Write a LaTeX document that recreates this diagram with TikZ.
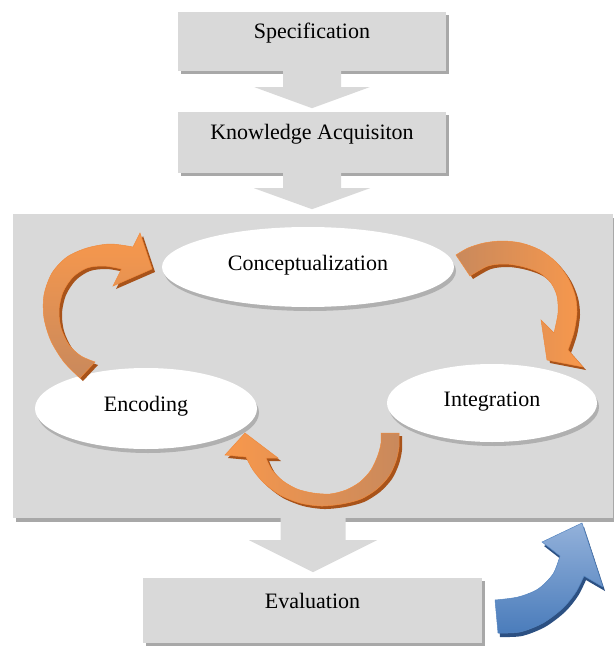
\documentclass[tikz,border=0pt]{standalone}
\usepackage{fontspec}
\setmainfont{Liberation Serif}
\usetikzlibrary{calc,shapes.geometric,shadows}

\definecolor{panelgray}{HTML}{D9D9D9}
\definecolor{shadegray}{HTML}{A8A8A8}
\definecolor{ellshadow}{HTML}{B0B0B0}
\definecolor{ormid}{HTML}{F08A3C}
\definecolor{orbright}{HTML}{F8984C}
\definecolor{orbrown}{HTML}{C9895C}
\definecolor{ordark}{HTML}{A8531A}
\definecolor{bllight}{HTML}{93B1DA}
\definecolor{blmid}{HTML}{4A7CBB}
\definecolor{bledge}{HTML}{5585C0}
\definecolor{bldark}{HTML}{2C5082}

\tikzset{
  labelfont/.style={font=\fontsize{22}{26}\selectfont},
  graybox/.style={rectangle, fill=panelgray, labelfont, inner sep=0pt,
    minimum width=268pt, minimum height=59pt, text height=14pt, text depth=19pt,
    drop shadow={opacity=1, fill=shadegray, shadow xshift=3pt, shadow yshift=-3pt}},
  panelbox/.style={rectangle, fill=panelgray, inner sep=0pt,
    minimum width=600pt, minimum height=304pt,
    drop shadow={opacity=1, fill=shadegray, shadow xshift=3pt, shadow yshift=-4pt}},
  stage/.style={ellipse, fill=white, labelfont, inner sep=0pt,
    text height=12pt, text depth=6pt,
    drop shadow={opacity=1, fill=ellshadow, shadow xshift=2pt, shadow yshift=-4pt}},
  orangeside/.style={fill=ordark},
  blueside/.style={fill=bldark},
}

% straight gray block arrow pointing down from a node anchor
% #1 anchor, #2 shaft half width, #3 shaft length, #4 head half width, #5 head length
\newcommand{\blockdown}[5]{%
  \fill[panelgray] ($(#1)+(-#2,0)$) -- ($(#1)+(-#2,#3)$) -- ($(#1)+(-#4,#3)$)
    -- ($(#1)+(0,{#3+#5})$) -- ($(#1)+(#4,#3)$) -- ($(#1)+(#2,#3)$)
    -- ($(#1)+(#2,0)$) -- cycle;}

% outlines of the curved block arrows of the cycle
\newcommand{\cycleA}{plot[smooth] coordinates {(80,378) (64,362) (51,341) (44,318) (44,295) (52,273) (67,257) (87,248) (110,244) (133,247)}
  -- (140,233) -- (152,269) -- (113,286)
  -- plot[smooth] coordinates {(121.5,269) (104,266) (87,268) (73,277) (63,292) (59,310) (61,328) (69,345) (81,356) (95,362)} -- cycle}
\newcommand{\cycleB}{plot[smooth] coordinates {(456,255) (468,248) (484,243) (502,241) (521,243) (540,250) (556,262) (568,278) (575,295) (577,312) (574,332) (568,350)}
  -- (583,367) -- (547,360) -- (541,320)
  -- plot[smooth] coordinates {(554,333) (558,313) (557,296) (551,283) (540,273) (524,267) (506,264) (488,266) (470,276)} -- cycle}
\newcommand{\cycleC}{plot[smooth] coordinates {(399,433) (399,447) (396,461) (389,476) (377,489) (361,499) (342,504) (321,506) (300,503) (280,495) (264,483) (253,470) (246,457)}
  -- (225,455) -- (245,433) -- (278,458)
  -- plot[smooth] coordinates {(266,458) (272,470) (283,481) (297,489) (313,493) (330,494) (346,490) (360,482) (371,470) (378,455) (381,443) (381,433)} -- cycle}
\newcommand{\loopback}{plot[smooth] coordinates {(498,633) (520,632) (543,623) (563,608) (576,592) (584,576)}
  -- (603,587) -- (582,523) -- (542,542)
  -- plot[smooth] coordinates {(560,556) (553,574) (538,589) (518,597) (495,600)} -- cycle}

\begin{document}
\begin{tikzpicture}[x=1pt, y=-1pt]
\useasboundingbox (0,0) rectangle (613,647);

% process boxes
\node[graybox] (spec) at (312,41.5) {Specification};
\node[graybox, minimum height=61pt] (know) at (312,142.5) {Knowledge Acquisiton};
\node[panelbox] (panel) at (313,366) {};
\node[graybox, minimum width=339pt, minimum height=65pt] (eval) at (312.5,610.5) {Evaluation};

% flow between the boxes
\blockdown{spec.south}{29}{16}{57.5}{21}
\blockdown{know.south}{29}{15}{58}{21}
\blockdown{panel.south}{32.5}{22}{64}{32}

% stages of the cycle
\node[stage, minimum width=292pt, minimum height=80pt] (concept) at (308,267) {Conceptualization};
\node[stage, minimum width=222pt, minimum height=81pt] (encode) at (146,408.5) {Encoding};
\node[stage, minimum width=210pt, minimum height=78pt] (integ) at (492,403) {Integration};

% curved arrows of the cycle
\fill[orangeside, shift={(3,3)}] \cycleA;
\shade[top color=orbright, bottom color=orbrown, draw=ormid, line width=0.5pt] \cycleA;
\fill[orangeside, shift={(3,3)}] \cycleB;
\shade[left color=orbrown, right color=orbright, draw=ormid, line width=0.5pt] \cycleB;
\fill[orangeside, shift={(3,3)}] \cycleC;
\shade[left color=orbright, right color=orbrown, draw=ormid, line width=0.5pt] \cycleC;

% return arrow
\fill[blueside, shift={(2,4)}] \loopback;
\shade[top color=bllight, bottom color=blmid, draw=bledge, line width=0.5pt] \loopback;
\end{tikzpicture}
\end{document}
